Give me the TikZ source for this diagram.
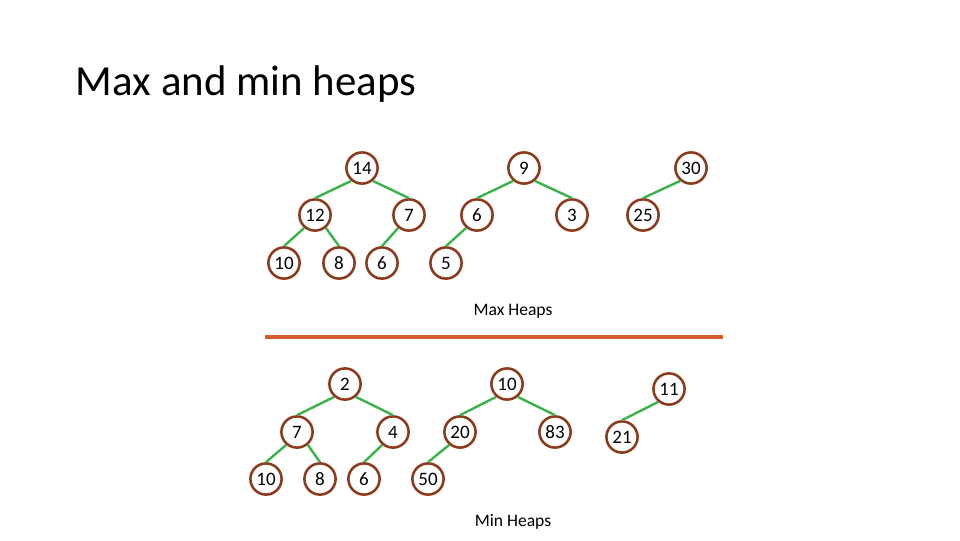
\documentclass[tikz,border=0pt]{standalone}
\usepackage{fontspec}
\setmainfont{Carlito}
\usepackage{tikz}

\definecolor{heapbrown}{RGB}{140,58,28}
\definecolor{heapgreen}{RGB}{58,178,76}
\definecolor{rulered}{RGB}{214,92,48}

\begin{document}
\begin{tikzpicture}[x=0.025cm,y=-0.025cm,
  key/.style={circle, draw=heapbrown, fill=white, line width=1.8pt,
    minimum size=0.78cm, inner sep=0pt, font=\fontsize{13.5}{14}\selectfont},
  link/.style={draw=heapgreen, line width=1.7pt},
  caption/.style={font=\fontsize{12.5}{14}\selectfont}]

\useasboundingbox (0,0) rectangle (960,540);

\node[anchor=base west, font=\fontsize{30.5}{36}\selectfont] (title) at (71,95) {Max and min heaps};

% max heaps
\node[key] (a14) at (362,168) {14};
\node[key] (a12) at (315,215) {12};
\node[key] (a7)  at (409,215) {7};
\node[key] (a10) at (284,263) {10};
\node[key] (a8)  at (339,263) {8};
\node[key] (a6)  at (382,263) {6};

\node[key] (b9) at (524,168) {9};
\node[key] (b6) at (477,215) {6};
\node[key] (b3) at (572,215) {3};
\node[key] (b5) at (446,263) {5};

\node[key] (c30) at (691,168) {30};
\node[key] (c25) at (643,215) {25};

\draw[link] (a14.-130) -- (a12.north);
\draw[link] (a14.-50) -- (a7.north);
\draw[link] (a12.-130) -- (a10.north);
\draw[link] (a12.-50) -- (a8.north);
\draw[link] (a7.-130) -- (a6.north);
\draw[link] (b9.-130) -- (b6.north);
\draw[link] (b9.-50) -- (b3.north);
\draw[link] (b6.-130) -- (b5.north);
\draw[link] (c30.-130) -- (c25.north);

\node[caption] (maxcap) at (513,311) {Max Heaps};

\coordinate (ruleL) at (265,337);
\coordinate (ruleR) at (723,337);
\draw[rulered, line width=2.2pt] (ruleL) -- (ruleR);

% min heaps
\node[key] (d2)  at (345,384) {2};
\node[key] (d7)  at (297,432) {7};
\node[key] (d4)  at (393,432) {4};
\node[key] (d10) at (266,479) {10};
\node[key] (d8)  at (320,479) {8};
\node[key] (d6)  at (364,479) {6};

\node[key] (e10) at (507,384) {10};
\node[key] (e20) at (460,432) {20};
\node[key] (e83) at (555,432) {83};
\node[key] (e50) at (428,479) {50};

\node[key] (f11) at (669,389) {11};
\node[key] (f21) at (622,437) {21};

\draw[link] (d2.-130) -- (d7.north);
\draw[link] (d2.-50) -- (d4.north);
\draw[link] (d7.-130) -- (d10.north);
\draw[link] (d7.-50) -- (d8.north);
\draw[link] (d4.-130) -- (d6.north);
\draw[link] (e10.-130) -- (e20.north);
\draw[link] (e10.-50) -- (e83.north);
\draw[link] (e20.-130) -- (e50.north);
\draw[link] (f11.-130) -- (f21.north);

\node[caption] (mincap) at (513,522) {Min Heaps};

\end{tikzpicture}
\end{document}
